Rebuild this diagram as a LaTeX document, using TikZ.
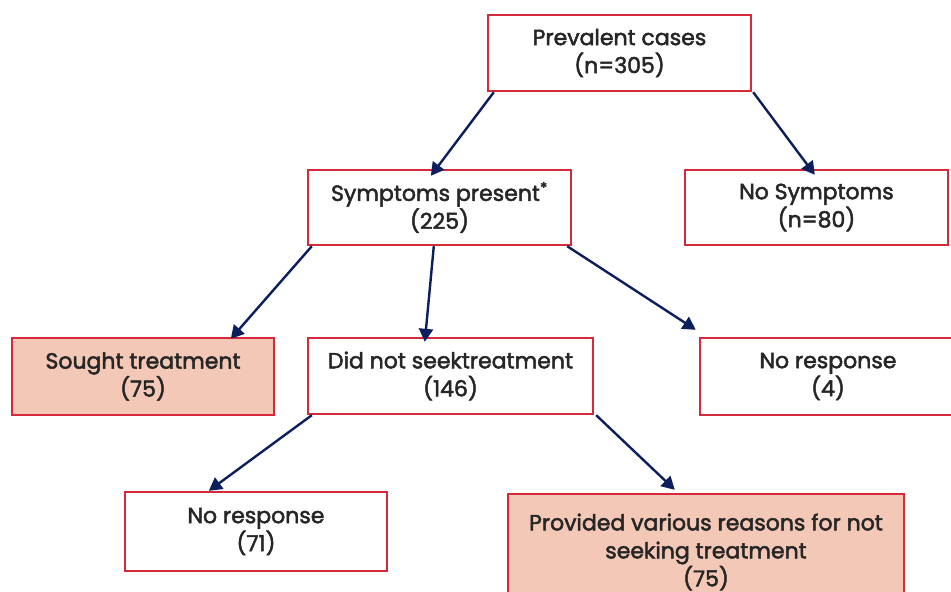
\documentclass[tikz,border=0pt]{standalone}
\usepackage{fontspec}
\setmainfont{Poppins}[FakeBold=2.2]
\usetikzlibrary{arrows.meta}
\definecolor{boxred}{HTML}{D42A3A}
\definecolor{boxfill}{HTML}{F4C8B6}
\definecolor{navy}{HTML}{0B1F5C}
\tikzset{
  flowbox/.style={draw=boxred, line width=2.4pt, rectangle, align=center, inner sep=0pt,
    font=\fontsize{22}{28}\selectfont, text=black!85},
  filledbox/.style={flowbox, fill=boxfill},
  flowarrow/.style={draw=navy, line width=2.4pt, -{Triangle[length=13pt,width=14pt]}}
}
\begin{document}
\begin{tikzpicture}[x=1pt,y=-1pt]
\useasboundingbox (0,0) rectangle (951,592);
\node[flowbox, minimum width=263pt, minimum height=76pt] (prev) at (619.5,53) {Prevalent cases\\(n=305)};
\node[flowbox, minimum width=263pt, minimum height=75pt] (symp) at (439.5,207.5) {Symptoms present\textsuperscript{*}\\(225)};
\node[flowbox, minimum width=263pt, minimum height=75pt] (nosymp) at (816.5,207.5) {No Symptoms\\(n=80)};
\node[filledbox, minimum width=262pt, minimum height=77pt] (sought) at (143,376.5) {Sought treatment\\(75)};
\node[flowbox, minimum width=285pt, minimum height=76pt] (notseek) at (450.5,376) {Did not seektreatment\\(146)};
\node[flowbox, minimum width=256pt, minimum height=77pt] (resp4) at (828,376.5) {No response\\(4)};
\node[flowbox, minimum width=262pt, minimum height=79pt] (resp71) at (256,531.5) {No response\\(71)};
\node[filledbox, minimum width=396pt, minimum height=116pt] (reasons) at (706,552) {Provided various reasons for not\\seeking treatment\\(75)};
\draw[flowarrow] ([xshift=7pt]prev.south west) -- ([xshift=124pt,yshift=-7pt]symp.north west);
\draw[flowarrow] ([xshift=1pt]prev.south east) -- ([xshift=131pt,yshift=-6pt]nosymp.north west);
\draw[flowarrow] ([xshift=5pt]symp.south west) -- ([xshift=220pt,yshift=-2pt]sought.north west);
\draw[flowarrow] ([xshift=127pt]symp.south west) -- ([xshift=118pt,yshift=-5pt]notseek.north west);
\draw[flowarrow] ([xshift=-5pt]symp.south east) -- ([xshift=-3pt,yshift=7pt]resp4.north west);
\draw[flowarrow] ([xshift=5pt]notseek.south west) -- ([xshift=85pt]resp71.north west);
\draw[flowarrow] ([xshift=2pt]notseek.south east) -- ([xshift=168pt,yshift=3pt]reasons.north west);
\end{tikzpicture}
\end{document}
